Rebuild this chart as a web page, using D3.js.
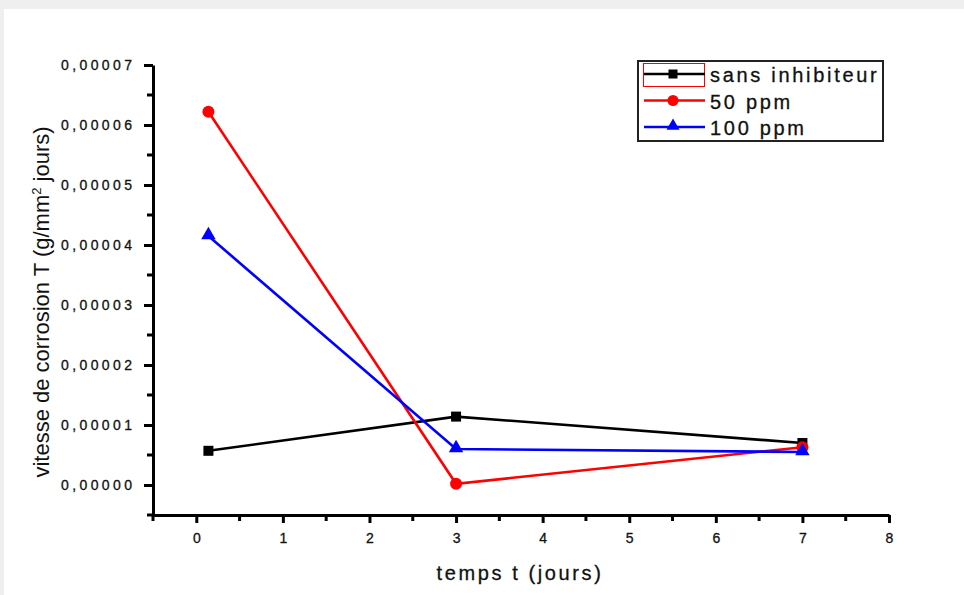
<!DOCTYPE html>
<html>
<head>
<meta charset="utf-8">
<script src="https://cdn.jsdelivr.net/npm/d3@7"></script>
<style>
  body { margin: 0; background: #efefef; }
  svg { display: block; font-family: "Liberation Sans", Arial, sans-serif; }
</style>
</head>
<body>
<div id="chart"></div>
<script>
// data
var days = [0.14, 3, 7];
var sansInhibiteur = [0.0000057, 0.0000114, 0.0000070];
var ppm50 = [0.0000622, 0.0000002, 0.0000063];
var ppm100 = [0.0000415, 0.0000060, 0.0000055];
var seriesNames = ["sans inhibiteur", "50 ppm", "100 ppm"];
var xTicks = [0, 1, 2, 3, 4, 5, 6, 7, 8];
var yTicks = [0, 0.00001, 0.00002, 0.00003, 0.00004, 0.00005, 0.00006, 0.00007];

var series = [
    { name: seriesNames[0], values: sansInhibiteur, color: "#000000", shape: "square" },
    { name: seriesNames[1], values: ppm50, color: "#ff0000", shape: "circle" },
    { name: seriesNames[2], values: ppm100, color: "#0000ff", shape: "triangle" }
];

var W = 964, H = 595;
var svg = d3.select("#chart").append("svg")
    .attr("width", W)
    .attr("height", H);

// white card on the grey page
svg.append("rect")
    .attr("x", 4).attr("y", 9)
    .attr("width", W - 4).attr("height", H - 9)
    .attr("fill", "#ffffff");

// scales
var x = d3.scaleLinear().domain([-0.5, 8]).range([153, 889]);
var y = d3.scaleLinear().domain([-0.000005, 0.00007]).range([515, 65]);

var fmt = function (d) { return d3.format(".5f")(d).replace(".", ","); };

// x axis
var xAxis = svg.append("g")
    .attr("transform", "translate(0,515)")
    .call(d3.axisBottom(x).tickValues(xTicks).tickSize(8).tickSizeOuter(0).tickFormat(d3.format("d")));
xAxis.selectAll(".tick line").attr("stroke-width", 3).attr("stroke", "#000");
xAxis.selectAll(".tick text")
    .attr("y", 18)
    .attr("dx", "1.7px")
    .attr("font-size", 14)
    .style("letter-spacing", "3.4px")
    .attr("fill", "#111")
    .attr("stroke", "#111").attr("stroke-width", 0.3);
// minor ticks x
svg.append("g").selectAll("line")
    .data(d3.range(-0.5, 8, 1))
    .enter().append("line")
    .attr("x1", function (d) { return x(d); })
    .attr("x2", function (d) { return x(d); })
    .attr("y1", 515).attr("y2", 521)
    .attr("stroke", "#000").attr("stroke-width", 3);

// y axis
var yAxis = svg.append("g")
    .attr("transform", "translate(153,0)")
    .call(d3.axisLeft(y).tickValues(yTicks).tickSize(9).tickSizeOuter(0).tickFormat(fmt));
yAxis.selectAll(".tick line").attr("stroke-width", 3).attr("stroke", "#000");
yAxis.selectAll(".tick text")
    .attr("x", -21)
    .attr("dx", "3.4px")
    .attr("font-size", 14)
    .style("letter-spacing", "3.4px")
    .attr("fill", "#111")
    .attr("stroke", "#111").attr("stroke-width", 0.3);
// minor ticks y
svg.append("g").selectAll("line")
    .data(d3.range(-0.000005, 0.00007, 0.00001))
    .enter().append("line")
    .attr("x1", 147).attr("x2", 153)
    .attr("y1", function (d) { return y(d); })
    .attr("y2", function (d) { return y(d); })
    .attr("stroke", "#000").attr("stroke-width", 3);

svg.selectAll(".domain").attr("stroke", "#000").attr("stroke-width", 3);

// marker drawing
function drawMarker(g, shape, color, cx, cy, s) {
    if (shape === "square") {
        g.append("rect")
            .attr("x", cx - s / 2).attr("y", cy - s / 2)
            .attr("width", s).attr("height", s)
            .attr("fill", color);
    } else if (shape === "circle") {
        g.append("circle")
            .attr("cx", cx).attr("cy", cy).attr("r", s / 2 + 1)
            .attr("fill", color);
    } else {
        g.append("path")
            .attr("d", d3.symbol().type(d3.symbolTriangle).size(s * s * 0.9))
            .attr("transform", "translate(" + cx + "," + (cy - 1) + ")")
            .attr("fill", color);
    }
}

// lines + markers
var line = d3.line()
    .x(function (d) { return x(d[0]); })
    .y(function (d) { return y(d[1]); });

series.forEach(function (s) {
    var pts = days.map(function (d, i) { return [d, s.values[i]]; });
    var g = svg.append("g");
    g.append("path")
        .datum(pts)
        .attr("d", line)
        .attr("fill", "none")
        .attr("stroke", s.color)
        .attr("stroke-width", 2.6);
    pts.forEach(function (p) {
        drawMarker(g, s.shape, s.color, x(p[0]), y(p[1]), 10);
    });
});

// legend
var legend = svg.append("g");
legend.append("rect")
    .attr("x", 638).attr("y", 61)
    .attr("width", 245).attr("height", 80)
    .attr("fill", "#fff")
    .attr("stroke", "#222").attr("stroke-width", 2);
// selection box around first sample
legend.append("rect")
    .attr("x", 643.5).attr("y", 63.5)
    .attr("width", 61).attr("height", 23)
    .attr("fill", "none")
    .attr("stroke", "#ff0000").attr("stroke-width", 1);

series.forEach(function (s, i) {
    var ly = 74 + i * 26.5;
    legend.append("line")
        .attr("x1", 644).attr("x2", 705)
        .attr("y1", ly).attr("y2", ly)
        .attr("stroke", s.color).attr("stroke-width", 2.6);
    drawMarker(legend, s.shape, s.color, 673, ly, 9);
    legend.append("text")
        .attr("x", 710).attr("y", ly + 8)
        .style("font-size", "20px")
        .style("letter-spacing", "2.7px")
        .attr("fill", "#111")
        .attr("stroke", "#111").attr("stroke-width", 0.3)
        .text(s.name);
});

// axis titles
svg.append("text")
    .attr("x", 520).attr("y", 580)
    .attr("text-anchor", "middle")
    .style("font-size", "20px")
    .style("letter-spacing", "2.6px")
    .attr("fill", "#111")
    .attr("stroke", "#111").attr("stroke-width", 0.3)
    .text("temps t (jours)");

var yt = svg.append("text")
    .attr("transform", "translate(49,302) rotate(-90)")
    .attr("text-anchor", "middle")
    .style("font-size", "22px")
    .attr("fill", "#111");
yt.append("tspan").text("vitesse de corrosion T (g/mm");
yt.append("tspan").attr("dy", -8).style("font-size", "13px").text("2");
yt.append("tspan").attr("dy", 8).text(" jours)");
</script>
</body>
</html>
